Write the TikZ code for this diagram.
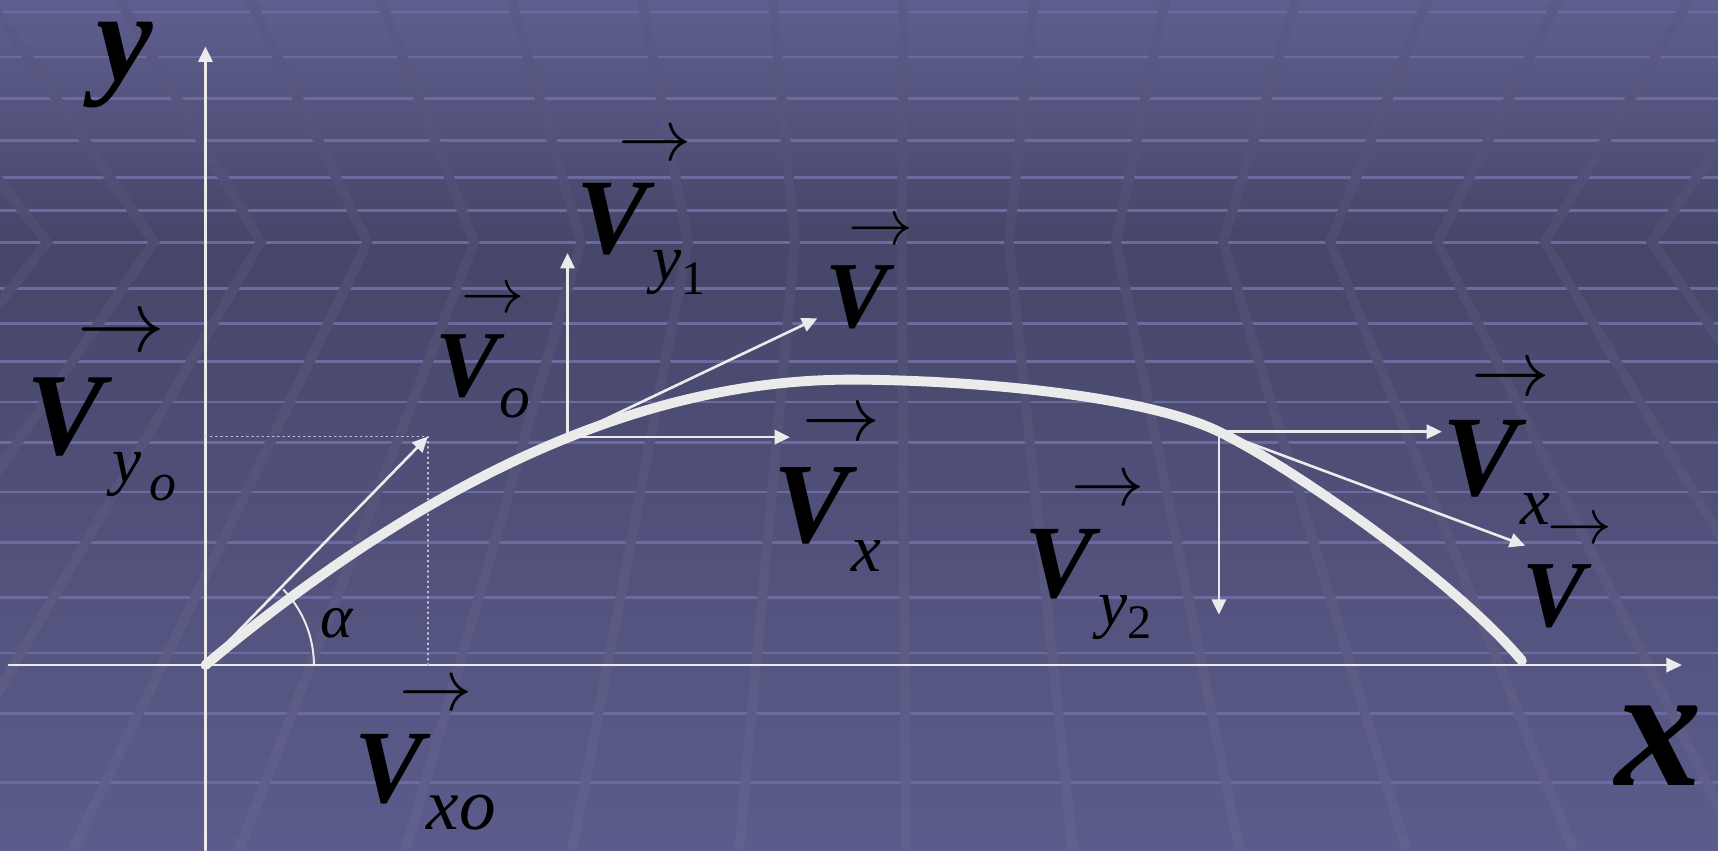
\documentclass[tikz,border=0pt]{standalone}
\usepackage{fontspec}
\setmainfont{Liberation Serif}
\usetikzlibrary{arrows.meta}

\definecolor{fondhaut}{HTML}{5F5F8F}
\definecolor{fondmil}{HTML}{46466A}
\definecolor{fondbas}{HTML}{5C5C8C}
\definecolor{bandhaut}{HTML}{5B5B88}
\definecolor{bandmil}{HTML}{4D4D70}
\definecolor{bandbas}{HTML}{61618D}
\definecolor{raie}{HTML}{6B6B9F}
\definecolor{blanc}{HTML}{EBEBEB}
\definecolor{pointille}{HTML}{C4C4D6}

\pgfdeclareverticalshading{fond}{100bp}{color(0bp)=(fondbas); color(25bp)=(fondbas); color(60.76bp)=(fondmil); color(75bp)=(fondhaut); color(100bp)=(fondhaut)}
\pgfdeclareverticalshading{bande}{100bp}{color(0bp)=(bandbas); color(25bp)=(bandbas); color(60.76bp)=(bandmil); color(75bp)=(bandhaut); color(100bp)=(bandhaut)}

\newcommand{\taille}[1]{\fontsize{#1}{#1}\selectfont}
\newcommand{\fleche}[1]{\scalebox{#1}{$\rightarrow$}}

\begin{document}
\begin{tikzpicture}[line cap=round,line join=round,>={Triangle[length=0.14cm,width=0.13cm]},x=0.01cm,y=-0.01cm,
    fin/.style={color=blanc,line width=0.024cm},
    vec/.style={inner sep=0pt,anchor=south,font=\bfseries\itshape},
    ind/.style={inner sep=0pt,anchor=base west,font=\itshape},
    fl/.style={inner sep=0pt}]
	% fond
	\useasboundingbox (0,0) rectangle (1568,776);
	\shade[shading=fond] (0,0) rectangle (1568,776);
	\foreach \h in {11,52,90,128,162,192,221,263,295,330,367,404,449,495,545,596,651,714}
		\draw[raie,line width=0.025cm] (0,\h) -- (1568,\h);
	\begin{scope}
		\clip (0,0) rectangle (1568,776);
		\foreach \i in {-1,...,16}{
			\pgfmathsetmacro\xa{37.4+97.65*\i}
			\pgfmathsetmacro\s{0.001*(\xa-812)}
			\pgfmathsetmacro\w{9*sqrt(1+\s*\s)}
			\shade[shading=bande] ({\xa+\s*221},0) -- (\xa,221) -- ({\xa+\s*555},776) -- ({\xa+\s*555+\w},776) -- ({\xa+\w},221) -- ({\xa+\s*221+\w},0) -- cycle;
		}
	\end{scope}
	% points
	\coordinate (O) at (187.5,607);
	\coordinate (Yh) at (187.5,42.5);
	\coordinate (Yb) at (187.5,776);
	\coordinate (Xg) at (8,607);
	\coordinate (Xd) at (1535,607);
	\coordinate (V0) at (390.5,398.5);
	\coordinate (P1) at (518,399);
	\coordinate (P1y) at (518,231);
	\coordinate (P1x) at (721,399);
	\coordinate (P1v) at (746,290.5);
	\coordinate (S) at (776,346.5);
	\coordinate (P2) at (1112.5,394);
	\coordinate (P2x) at (1316,394);
	\coordinate (P2y) at (1112.5,561);
	\coordinate (P2v) at (1392,498);
	\coordinate (F) at (1389,603);
	% axes
	\draw[fin] (Yb) -- (O);
	\draw[fin,->] (O) -- (Yh);
	\draw[fin,->] (Xg) -- (Xd);
	% projections
	\draw[pointille,line width=0.012cm,densely dotted] (O |- V0) -- (V0) -- (V0 |- O);
	% trajectoire
	\draw[blanc,line width=0.09cm] (O) .. controls (379,446.3) and (576,346.5) .. (S)
		.. controls (880,346.5) and (1042.5,359.9) .. (P2)
		.. controls (1182.5,428.1) and (1329,531.5) .. (F);
	% vitesses
	\draw[fin,->] (O) -- (V0);
	\draw[fin,->] (P1) -- (P1y);
	\draw[fin,->] (P1) -- (P1x);
	\draw[fin,->] (P1) -- (P1v);
	\draw[fin,->] (P2) -- (P2x);
	\draw[fin,->] (P2) -- (P2y);
	\draw[fin,->] (P2) -- (P2v);
	% angle
	\draw[fin,line width=0.018cm] (O) ++(99,0) arc[start angle=0,end angle=-44,radius=99];
	\node[ind] (alpha) at (292,582) {\taille{16}α};
	% axes : noms
	\node[inner sep=0pt,font=\bfseries\itshape] (ny) at (114,59) {\taille{33}y};
	\node[inner sep=0pt,font=\bfseries\itshape] (nx) at (1514,681) {\taille{45}x};
	% etiquettes
	\node[fl] (fyo) at (111,306.5) {\fleche{2.28}};
	\node[vec] (Vyo) at (60,417) {\taille{30.4}V};
	\node[ind] (iyo) at (102,440) {\taille{17}y\hspace{2pt}\raisebox{-4.8pt}{\taille{14}o}};
	\node[fl] (fo) at (450,275) {\fleche{1.64}};
	\node[vec] (Vo) at (426,363.5) {\taille{24.5}V};
	\node[ind] (io) at (455,381.5) {\taille{16}o};
	\node[fl] (fy1) at (598,134.5) {\fleche{1.9}};
	\node[vec] (Vy1) at (559,234) {\taille{27.8}V};
	\node[ind] (iy1) at (595,256) {\taille{17}y\raisebox{-3.7pt}{\upshape\taille{12.5}1}};
	\node[fl] (fv1) at (804,212) {\fleche{1.68}};
	\node[vec] (V1) at (782,301) {\taille{24.5}V};
	\node[fl] (fx1) at (768,389.4) {\fleche{2.02}};
	\node[vec] (Vx1) at (741,497) {\taille{29.7}V};
	\node[ind] (ix1) at (776,521.5) {\taille{17.5}x};
	\node[fl] (fxo) at (398,636.6) {\fleche{1.9}};
	\node[vec] (Vxo) at (355,735) {\taille{27}V};
	\node[ind] (ixo) at (389,757) {\taille{19}xo};
	\node[fl] (fy2) at (1011,448.7) {\fleche{1.9}};
	\node[vec] (Vy2) at (966.6,547.6) {\taille{27}V};
	\node[ind] (iy2) at (1002,571) {\taille{17}y\raisebox{-3.3pt}{\upshape\taille{12.5}2}};
	\node[fl] (fx2) at (1379.3,347.6) {\fleche{2.04}};
	\node[vec] (Vx2) at (1351.5,454.8) {\taille{29.8}V};
	\node[ind] (ix2) at (1387,479) {\taille{17.5}x};
	\node[fl] (fv2) at (1441.5,485.3) {\fleche{1.68}};
	\node[vec] (V2) at (1418.4,573.5) {\taille{24.5}V};
\end{tikzpicture}
\end{document}
